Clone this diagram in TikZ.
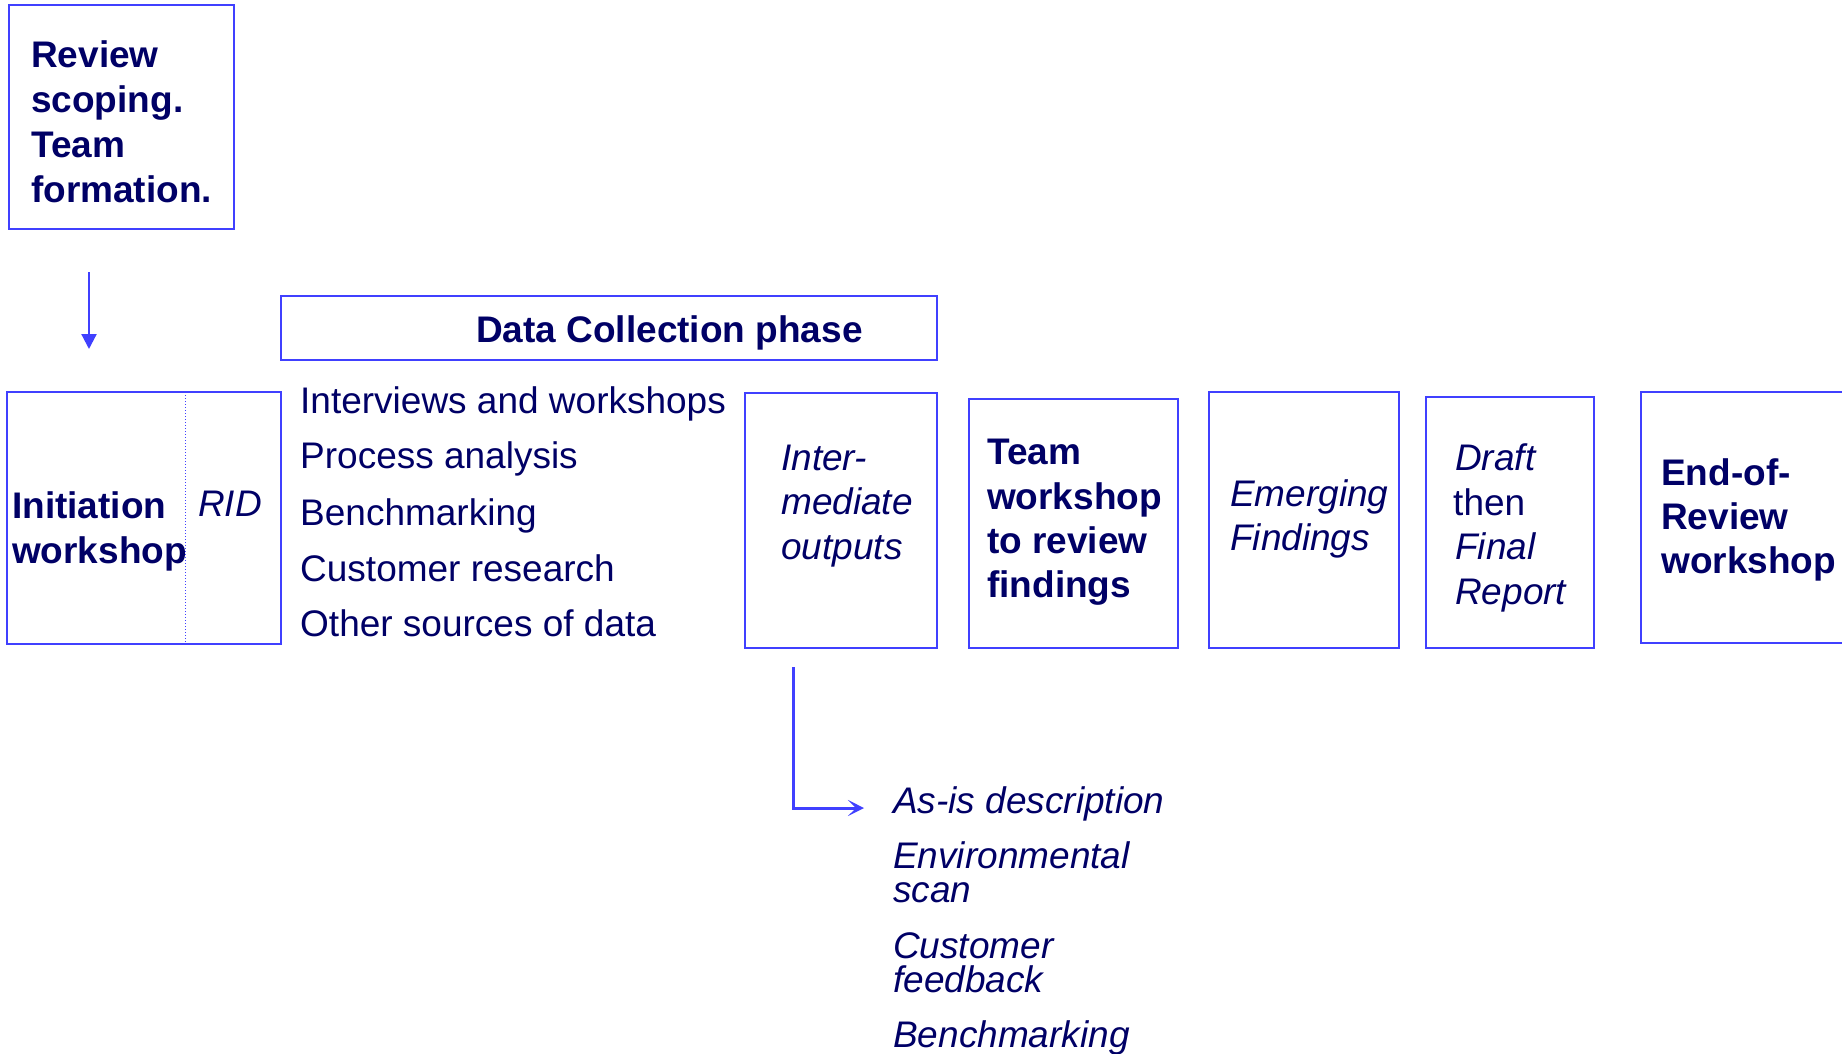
\documentclass[tikz,border=0pt]{standalone}
\usepackage{fontspec}
\setmainfont{Liberation Sans}
\usetikzlibrary{arrows.meta}
\definecolor{boxblue}{RGB}{64,64,255}
\definecolor{navy}{RGB}{0,0,102}
\newcommand\mybox[5]{\node[box,minimum width={(#4-#2)*1pt},minimum height={(#5-#3)*1pt}] (#1) at ({(#2+#4)/2},{(#3+#5)/2}) {};}
\begin{document}
\begin{tikzpicture}[x=1pt,y=-1pt,
  box/.style={draw=boxblue,line width=2pt,inner sep=0pt,outer sep=0pt},
  txt/.style={anchor=base west,inner sep=0pt,text=navy,font=\fontsize{37pt}{44.5pt}\selectfont},
  bt/.style={txt,font=\fontsize{37pt}{44.5pt}\selectfont\bfseries},
  it/.style={txt,font=\fontsize{37pt}{44.5pt}\selectfont\itshape},
  conn/.style={draw=boxblue,line width=2.2pt}]
\useasboundingbox (0,0) rectangle (1842,1053);
\clip (0,0) rectangle (1842,1053);
\fill[white] (0,0) rectangle (1842,1053);
% boxes
\mybox{review}{9}{5}{234}{229}
\mybox{init}{7}{392}{281}{644}
\mybox{dc}{281}{296}{937}{360}
\mybox{inter}{745}{393}{937}{648}
\mybox{team}{969}{399}{1178}{648}
\mybox{emerg}{1209}{392}{1399}{648}
\mybox{draft}{1426}{397}{1594}{648}
\mybox{endrev}{1641}{392}{1920}{643}
\draw[boxblue,line width=1pt,dotted] (185,392) -- (185,644);
% review text
\node[bt] (r1) at (31,67) {Review};
\node[bt] (r2) at (31,112) {scoping.};
\node[bt] (r3) at (31,157) {Team};
\node[bt] (r4) at (31,202) {formation.};
% initiation
\node[bt] (i1) at (12,518) {Initiation};
\node[bt] (i2) at (12,563) {workshop};
\node[it] (rid) at (198,516) {RID};
% data collection
\node[bt] (dct) at (476,342) {Data Collection phase};
\node[txt] (l1) at (300,413) {Interviews and workshops};
\node[txt] (l2) at (300,468) {Process analysis};
\node[txt] (l3) at (300,525) {Benchmarking};
\node[txt] (l4) at (300,581) {Customer research};
\node[txt] (l5) at (300,636) {Other sources of data};
% intermediate
\node[it] (m1) at (781,470) {Inter-};
\node[it] (m2) at (781,514.5) {mediate};
\node[it] (m3) at (781,559) {outputs};
% team workshop
\node[bt] (t1) at (987,464) {Team};
\node[bt] (t2) at (987,509) {workshop};
\node[bt] (t3) at (987,553) {to review};
\node[bt] (t4) at (987,597) {findings};
% emerging
\node[it] (e1) at (1230,506) {Emerging};
\node[it] (e2) at (1230,550) {Findings};
% draft
\node[it] (d1) at (1455,470) {Draft};
\node[txt] (d2) at (1453,515) {then};
\node[it] (d3) at (1455,559) {Final};
\node[it] (d4) at (1455,604) {Report};
% end of review
\node[bt] (n1) at (1661,485) {End-of-};
\node[bt] (n2) at (1661,529) {Review};
\node[bt] (n3) at (1661,573) {workshop};
% outputs list
\node[it] (o1) at (893,813) {As-is description};
\node[it] (o2) at (893,868) {Environmental};
\node[it] (o3) at (893,902) {scan};
\node[it] (o4) at (893,958) {Customer};
\node[it] (o5) at (893,992) {feedback};
\node[it] (o6) at (893,1047) {Benchmarking};
% connectors
\coordinate (a1) at (89,272);
\coordinate (a2) at (89,349);
\draw[conn,-{Triangle[length=15pt,width=15pt]}] (a1) -- (a2);
\coordinate (b1) at (793,667);
\coordinate (b2) at (864,808);
\draw[conn,line width=3pt,-{Stealth[length=16pt,width=16pt,inset=8pt]}] (b1) |- (b2);
\end{tikzpicture}
\end{document}
